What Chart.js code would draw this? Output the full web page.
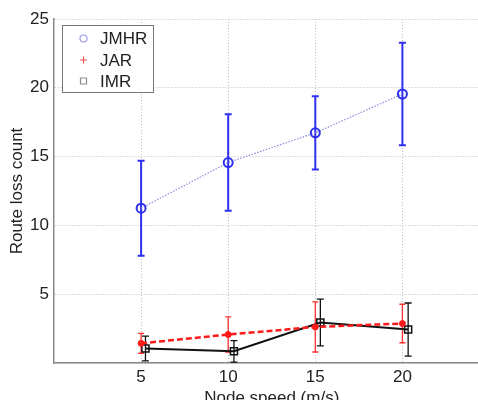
<!DOCTYPE html>
<html>
<head>
<meta charset="utf-8">
<script src="https://cdn.jsdelivr.net/npm/chart.js@4"></script>
<style>
  html, body { margin: 0; padding: 0; background: #fff; overflow: hidden; }
  canvas { display: block; }
</style>
</head>
<body>
<canvas id="chart" width="496" height="412"></canvas>
<script>
// node speed (m/s)
const speeds = [5, 10, 15, 20]
// IMR is drawn a little to the right in the original
const imrSpeeds = [5.25, 10.33, 15.29, 20.33]

const jmhrMean = [11.25, 14.57, 16.73, 19.55]
const jmhrErr = [3.45, 3.51, 2.66, 3.72]
const jarMean = [1.43, 2.07, 2.62, 2.87]
const jarErr = [0.72, 1.28, 1.82, 1.4]
const imrMean = [1.05, 0.85, 2.94, 2.43]
const imrErr = [0.9, 0.78, 1.7, 1.93]

const xTicks = [5, 10, 15, 20, 25]
const yTicks = [0, 5, 10, 15, 20, 25]

const FONT = "'Liberation Sans', Arial, sans-serif"

function pts(xs, ys) {
    return xs.map((x, i) => ({ x: x, y: ys[i] }))
}

// vertical error bars, drawn under the markers
const errorBars = {
    id: 'errorBars',
    beforeDatasetsDraw(chart) {
        const { ctx, chartArea, scales } = chart
        ctx.save()
        ctx.beginPath()
        ctx.rect(chartArea.left, chartArea.top, chartArea.right - chartArea.left, chartArea.bottom - chartArea.top)
        ctx.clip()
        chart.data.datasets.forEach(ds => {
            if (!ds.errors) return
            ctx.strokeStyle = ds.errColor
            ctx.lineWidth = ds.errWidth
            ctx.setLineDash([])
            ds.data.forEach((p, i) => {
                const e = ds.errors[i]
                const x = scales.x.getPixelForValue(p.x)
                const y1 = scales.y.getPixelForValue(p.y + e)
                const y2 = scales.y.getPixelForValue(p.y - e)
                const c = ds.capHalf
                ctx.beginPath()
                ctx.moveTo(x, y1); ctx.lineTo(x, y2)
                ctx.moveTo(x - c, y1); ctx.lineTo(x + c, y1)
                ctx.moveTo(x - c, y2); ctx.lineTo(x + c, y2)
                ctx.stroke()
            })
        })
        ctx.restore()
    }
}

// MATLAB-like legend box in the upper left corner
const boxLegend = {
    id: 'boxLegend',
    afterDraw(chart) {
        const ctx = chart.ctx
        const left = 62, top = 25, w = 91, h = 67
        ctx.save()
        ctx.fillStyle = '#fff'
        ctx.fillRect(left, top, w, h)
        ctx.strokeStyle = '#777'
        ctx.lineWidth = 1
        ctx.strokeRect(left + 0.5, top + 0.5, w, h)
        const rows = [
            { label: 'JMHR', y: 38.5, kind: 'circle', color: '#9a9ae6' },
            { label: 'JAR', y: 60, kind: 'plus', color: '#f05050' },
            { label: 'IMR', y: 81, kind: 'square', color: '#8a8a8a' }
        ]
        ctx.font = '17px ' + FONT
        ctx.textBaseline = 'middle'
        rows.forEach(r => {
            ctx.strokeStyle = r.color
            ctx.lineWidth = 1.2
            ctx.beginPath()
            if (r.kind === 'circle') {
                ctx.arc(83.5, r.y, 3.5, 0, Math.PI * 2)
            } else if (r.kind === 'plus') {
                ctx.moveTo(80, r.y); ctx.lineTo(87, r.y)
                ctx.moveTo(83.5, r.y - 3.5); ctx.lineTo(83.5, r.y + 3.5)
            } else {
                ctx.rect(80.5, r.y - 3, 6, 6)
            }
            ctx.stroke()
            ctx.fillStyle = '#222'
            ctx.fillText(r.label, 100, r.y + 1)
        })
        ctx.restore()
    }
}

const gridStyle = {
    color: '#bdbdbd',
    lineWidth: 1,
    drawTicks: false
}

const config = {
    type: 'line',
    data: {
        datasets: [
            {
                label: 'JMHR',
                data: pts(speeds, jmhrMean),
                errors: jmhrErr,
                errColor: '#2f2ff0',
                errWidth: 2,
                capHalf: 3.5,
                borderColor: '#8c8cdc',
                borderWidth: 1.2,
                borderDash: [1.5, 1.5],
                pointStyle: 'circle',
                pointRadius: 4.5,
                pointBorderWidth: 2,
                pointBorderColor: '#2f2ff0',
                pointBackgroundColor: 'rgba(255,255,255,0)'
            },
            {
                label: 'JAR',
                data: pts(speeds, jarMean),
                errors: jarErr,
                errColor: '#ff3030',
                errWidth: 1.3,
                capHalf: 3,
                borderColor: '#ff1a1a',
                borderWidth: 2.5,
                borderDash: [6, 3],
                pointStyle: 'circle',
                pointRadius: 3,
                pointBorderWidth: 1,
                pointBorderColor: '#ff1a1a',
                pointBackgroundColor: '#ff1a1a'
            },
            {
                label: 'IMR',
                data: pts(imrSpeeds, imrMean),
                errors: imrErr,
                errColor: '#111',
                errWidth: 1.3,
                capHalf: 3.5,
                borderColor: '#111',
                borderWidth: 2,
                pointStyle: 'rect',
                pointRadius: 5,
                pointBorderWidth: 1.5,
                pointBorderColor: '#111',
                pointBackgroundColor: 'rgba(255,255,255,0)'
            }
        ]
    },
    options: {
        responsive: false,
        animation: false,
        layout: { padding: { top: 19, right: 2, bottom: 0, left: 0 } },
        plugins: {
            legend: { display: false },
            tooltip: { enabled: false }
        },
        scales: {
            x: {
                type: 'linear',
                min: 0,
                max: 25,
                afterBuildTicks: s => { s.ticks = xTicks.map(v => ({ value: v })) },
                afterFit: s => { s.height = 49 },
                grid: gridStyle,
                // dash goes to grid lines, the axis line itself stays solid
                border: { display: true, color: '#8a8a8a', width: 1.5, dash: [1, 2] },
                ticks: {
                    padding: 4,
                    color: '#222',
                    font: { family: FONT, size: 17 },
                    callback: v => (v === 25 ? '' : v)
                },
                title: {
                    display: true,
                    text: 'Node speed (m/s)',
                    color: '#222',
                    font: { family: FONT, size: 17 },
                    padding: { top: 0, bottom: 3 }
                }
            },
            y: {
                type: 'linear',
                min: 0,
                max: 25,
                afterBuildTicks: s => { s.ticks = yTicks.map(v => ({ value: v })) },
                afterFit: s => { s.width = 54 },
                grid: gridStyle,
                border: { display: true, color: '#8a8a8a', width: 1.5, dash: [1, 2] },
                ticks: {
                    padding: 5,
                    color: '#222',
                    font: { family: FONT, size: 17 },
                    callback: v => (v === 0 ? '' : v)
                },
                title: {
                    display: true,
                    text: 'Route loss count',
                    color: '#222',
                    font: { family: FONT, size: 17 },
                    padding: { top: 7, bottom: 0 }
                }
            }
        }
    },
    plugins: [errorBars, boxLegend]
}

const chart = new Chart(document.getElementById('chart').getContext('2d'), config)
</script>
</body>
</html>
